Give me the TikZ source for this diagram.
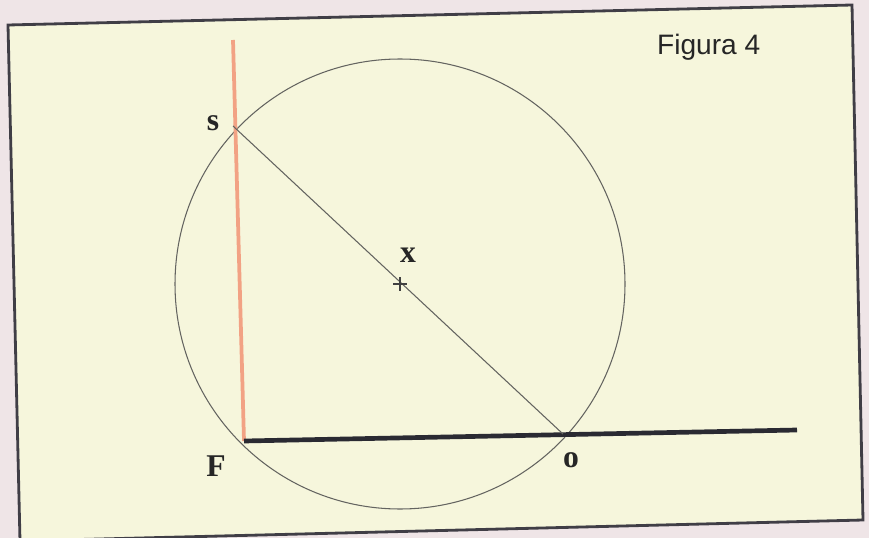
\documentclass[tikz,border=0pt]{standalone}
\usepackage{fontspec}
\setmainfont{Liberation Serif}
\newfontfamily\figsans{Liberation Sans}
\usetikzlibrary{calc}
\definecolor{papel}{RGB}{239,229,231}
\definecolor{folha}{RGB}{246,246,220}
\definecolor{moldura}{RGB}{64,62,70}
\definecolor{laranja}{RGB}{242,162,132}
\definecolor{traco}{RGB}{42,42,50}
\definecolor{circulo}{RGB}{100,100,96}
\tikzset{
  rotulo/.style={font=\bfseries\fontsize{27}{30}\selectfont, text=black!85, inner sep=0pt},
}
\begin{document}
\begin{tikzpicture}[x=0.03cm, y=-0.03cm]
    % --- Fundo e moldura ---
    \fill[papel] (0,0) rectangle (869,538);
    \useasboundingbox (0,0) rectangle (869,538);
    \draw[moldura, line width=2.4pt, fill=folha, line join=miter]
      (8,25) -- (852,5) -- (863,520) -- (20,541) -- cycle;
    \node[font=\figsans\fontsize{24}{28}\selectfont, text=black!85, anchor=west] (titulo) at (653,47) {Figura 4};
    % --- Pontos ---
    \coordinate (X) at (400,284);
    \coordinate (S) at (233,126);
    \coordinate (O) at (563,434);
    \coordinate (F) at (244,441);
    \coordinate (topo) at (233,40);
    \coordinate (fim) at (797,430);
    % --- Circunferencia ---
    \draw[circulo, line width=0.9pt] (X) circle (225);
    % --- Retas ---
    \draw[laranja, line width=3.2pt] (topo) -- (F);
    \draw[traco, line width=4pt] (F) -- (fim);
    \draw[circulo, line width=0.9pt] (S) -- (O);
    % --- Centro ---
    \draw[black!75, line width=0.9pt] ($(X)+(-7,0)$) -- ($(X)+(7,0)$);
    \draw[black!75, line width=0.9pt] ($(X)+(0,-7)$) -- ($(X)+(0,7)$);
    % --- Rotulos ---
    \node[rotulo] (rs) at (213,123) {s};
    \node[rotulo] (rx) at (408,255) {x};
    \node[rotulo] (rf) at (216,466) {F};
    \node[rotulo] (ro) at (571,460) {o};
\end{tikzpicture}
\end{document}
